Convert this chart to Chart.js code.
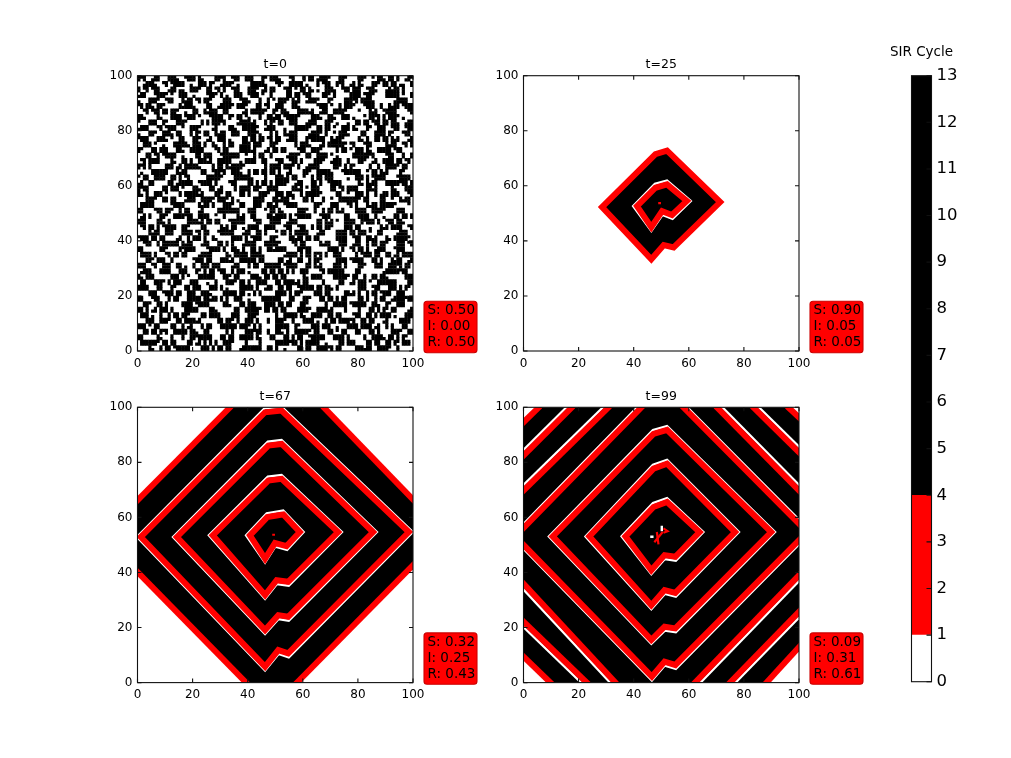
<!DOCTYPE html>
<html>
<head>
<meta charset="utf-8">
<title>SIR Cycle</title>
<script src="https://cdn.jsdelivr.net/npm/chart.js@4/dist/chart.umd.min.js"></script>
<style>
html, body { margin: 0; background: #fff; }
#page { position: relative; width: 1011px; height: 758px; overflow: hidden; }
canvas { position: absolute; }
</style>
</head>
<body>
<div id="page"></div>
<script>
const panelTitles = ['t=0', 't=25', 't=67', 't=99'];
const fracS = ['0.50', '0.90', '0.32', '0.09'];
const fracI = ['0.00', '0.05', '0.25', '0.31'];
const fracR = ['0.50', '0.05', '0.43', '0.61'];
const axisTicks = [0, 20, 40, 60, 80, 100];
const colorbarBands = [1, 3, 9];
const colorbarTicks = [0, 1, 2, 3, 4, 5, 6, 7, 8, 9, 10, 11, 12, 13];
const colorbarColors = ['#ffffff', '#ff0000', '#000000'];

// t=0 grid, one hex string per row from the top, a set bit is a black cell
const cellsT0 = [
'E31C7A0F39C6E18B3C70E59A3','A71E3B0D19C4F08B7860C1DA6','1C6F83B1E07C39F05CE2876C1','3E2793A3C87E11F44CA6C66D9',
'B70C1E6D38F2C75A0E3B9C168','931D9C6518E6C31B4F1B8E3E8','63E9C07A1CF4836E1D07BC3E9','E1C1C8329C7083661907983E1',
'0F38B6E1C7095EA3C61F7803C','8E18F2C1C3891CE7841D7C07C','D9C17063EF1B38C07A5E3C96F','5D81F867CE1938E0385C1C9E7',
'376E0CB9817E6C3D19F08A7C3','136C4CF9837C4E3F39E00E3C1','C10F7A3E6D09B7E1C6382F5E0','E18F381E4C89F3C1E73A0D5C8',
'8E63C15F07A2D9C38E01B76C3','0E43815D0FE299C78C89B36E7','71BC9E0863F1C07E6D3A19CE7','F09C1C1873E3C47C6C3B11C63',
'0E7316CB38F0A5C1E97063D8E','8C7B14CF38E8A7C3C87863D06','F1C98E27036DB1C7F2E0936A1','71E18C67436CB3C5F3C0D36E3',
'3A07CE9163B8E05C17F6382CD','3847EE9967B8C05E37E2183C5','C6E31F0D87A16C39E0B5D1F70','86E39F0587E36C19C0B1D9F30',
'1B7C06E3F92C81E67A03FC389','193C86E1F82C83C67883F4189','6F08D3A7C1E639D0F1C8E27B6','2F0CD3E7C5E618D0E3C8C67B2',
'E8397C16BE02F7A3C1D6093EC','A83B7E16FC02F727C194093CC','07E2C19F38B6D10E7C3F96A18','47E3C18D3CB6D30C7E1F86E10',
'B3CD607E1F823AC96E01D7C3E','33CD207C1FC23EC16E09D3C1E','4C19F3E870D6BE31A7C0963FD','CC1BF1E830D6BC71A3C0DE3ED',
'F06E8C3217B9E0D5C36F1A087','B06E0E3617B1E0F1C32F1E0C7','93A17D0EC68F3B17E0C9D26E3','D3817F0CC68E3B97C0C1D2EE1',
'1E6C39F7A03C6E8D127FB0C96','1C6C79E7283C7E0D107F30C1E','7C0F82D1E639A7C0E38D16FC2','7C0783D1C639E3C0C3851EF80',
'C3B96107F8E2D03C96A1E7C38','C1B16307F8E0D83896E1E7838','28E7F3C90A61BD7E3C18F206D','68C7B3C10E61FD3E1C18F246D',
'E1903D6C7E38F1C06A9E7D3B0','E1D03F6C3E18F3C06E1E5D1B8','6D7CE182B0F3C7396E1D80AF3','2D3CC183B2F3C3196C1D88EF1',
'0B38F6C7E19A2D7C30F6E981C','0F38F2C3E39A0D7C70F6E183C','F6C12E903D78E1B6C0F39A27E','76C32E983D38C1F6C0F19E37C',
'397EB0C6A1E3F0D82C7196E3B','197EF1C6A3E3E0583C7396C39','C0E1F87D3269BC3E07A6D1C78','C0C1783D3A69FC3607A2D3C38',
'7A36C1E09F7803D6E9C17B32F','7A16C3E0DF7C07D6A9C13B36F','1DC80F63A7EC1932E0F7C68B1','19C80763E7EC1B32C0F3C68F3',
'E67309DC18B3F7C6A1D0E39F6','E27349DC38B3F3C6E1D0C39D6','38F1C6B72E06DA9C37E1803FC','78F1C4B32E86DA9C17E1807EC',
'9C0EA3F1D8736C09E1FB26C07','DC0E83F1987B6C0DE1F326E07','63D71C08F69E37AC1062E9FC3','63971C48E69E37EC1066E1FC3',
'F18C6E3A07D19B3F6C80E71D6','F1886E3A87D39B1F6E80E31D4','0E7B39C1F6283D70EC1A96F38','0E3B39E1F6A83D60EC1E96738',
'C7163EDA9C07F18E36B0D2C7F','C3163EFA9C87F18C36B0D2CFB','39A0F7C186E3DB1C09F7E6338','31A0F3C1C6E3DB1809F3E7238',
'D2E87C3019FB6C3E7A108D6C1','D6E87C3819F36C3C7E108D4C3','7096E1BC38F027D1E6C39AF07','7496C1BC38E027D9E6C19AF47',
'1CF37A06E9D13C8F0B7E6C21E','1CE37E06C9D1388F4B7A6C61E','EB0C9163F7A83E61DC0F7928C','E30CB163F7283E41DC8F7B28C',
'36E7D8C0A1F9327EC6B18D0F3','36A7DCC0A1D93A7CC6318D0E3','C1089FE367D0C6B3F1E8279AC','C1889BE367D8C6B1F1E827DA8',
'7F6C32A9E1083FD7C06E1B36E','7E6C36A9C1083ED7C86E1B34E','08B7E1D6C3F9A0367EC1D9F20','0CB3E1D6C7F9A4367AC1F9E20'
];

// black areas, red rings and the thin white edge outside them, as vertices
const blackT25 = [[71.4,54.1],[52.1,72.8],[47.9,71.5],[28.5,52.3],[46.4,33.3],[50.9,38.5],[54.5,37.6],[71.4,54.1]];
const redT25 = [
  [[71.4,54.1],[52.1,72.8],[47.9,71.5],[28.5,52.3],[46.4,33.3],[50.9,38.5],[54.5,37.6],[71.4,54.1]],
  [[59.3,54.5],[52.1,60.5],[47.9,59.3],[41.2,52.6],[46.4,45],[50.3,50.8],[53.9,49.4],[59.3,54.5]]
];
const whiteT25 = [
  [[60.7,54.5],[52.1,61.9],[47.7,60.7],[39.8,52.6],[46.4,43.6],[50.4,49.4],[54.1,48],[60.7,54.5]]
];
const dotsT25 = [[[48.9,53.7],[49.9,53.7]]];

const blackT67 = [[0,66.2],[34,100],[67.6,100],[100,66],[100,42.8],[58,0],[39.8,0],[0,40.4],[0,66.2]];
const redT67 = [
  [[58.9,54.7],[52.9,61.1],[50.5,60.7],[47.1,60.1],[40.8,53.5],[46.3,45],[49.9,50.7],[54.1,49.6],[58.9,54.7]],
  [[72.8,54.7],[52.3,74],[47.5,73.4],[27.3,53.5],[46.3,31.8],[50.5,37.2],[54.7,36.6],[72.8,54.7]],
  [[85.5,54.7],[52.3,86.7],[47.5,86.1],[14.3,52.9],[46.3,19.1],[51.1,24.5],[54.7,23.9],[85.5,54.7]],
  [[98.5,54.7],[52.3,98.8],[46.3,98.2],[1.2,52.9],[46.3,5.8],[51.1,11.8],[54.7,10.6],[98.5,54.7]],
  [[-1,65.2],[34,100.4]], [[67.2,100.4],[101,65.5]], [[-1,41.2],[40,-0.6]], [[57.3,-0.6],[101,43.6]]
];
const whiteT67 = [
  [[60.3,54.7],[52.9,62.5],[50.5,62.1],[46.9,61.5],[39.4,53.5],[46.3,43.6],[50,49.4],[54.3,48.2],[60.3,54.7]],
  [[74.2,54.7],[52.3,75.4],[47.3,74.8],[25.9,53.5],[46.3,30.4],[50.6,35.8],[54.9,35.2],[74.2,54.7]],
  [[86.9,54.7],[52.3,88.1],[47.3,87.5],[12.9,52.9],[46.3,17.7],[51.2,23.1],[54.9,22.5],[86.9,54.7]],
  [[99.9,54.7],[52.3,100.2],[46.1,99.6],[-0.2,52.9],[46.3,4.4],[51.2,10.4],[54.9,9.2],[99.9,54.7]]
];
const dotsT67 = [[[48.9,53.7],[49.9,53.7]]];

const blackT99 = [[5.6,100],[96.2,100],[100,96],[100,13.5],[87.8,0],[10.2,0],[0,9.8],[0,94.4],[5.6,100]];
const redT99 = [
  [[63.9,54.7],[52.1,65.6],[47.2,63.8],[37,53.1],[46.4,40.8],[51.2,46.3],[55.1,45.7],[63.9,54.7]],
  [[76.8,54.7],[52.1,79.5],[47.2,77.7],[23.9,53.1],[46.4,28.1],[51.2,33.6],[55.1,32.6],[76.8,54.7]],
  [[89.9,54.7],[52.1,91.8],[47.2,90.3],[10.6,53.1],[46.4,15.5],[51.2,20.3],[55.1,19.7],[89.9,54.7]],
  [[103,54.7],[52.1,106],[47.2,104.5],[-3,53.1],[46.6,2.2],[51.2,7.6],[55.1,6.4],[103,54.7]],
  [[-1,93.6],[6,100.4]], [[-1,81.5],[18,100.4]], [[-1,68.8],[31.3,100.4]],
  [[69.8,100.4],[101,68.8]], [[83,100.4],[101,82.7]], [[95.7,100.4],[101,95.4]],
  [[-1,37],[34.3,-1]], [[-1,23.1],[24,-1]], [[-1,10.4],[10.8,-1]],
  [[61.3,-1],[101,40]], [[74,-1],[101,26.7]], [[87.3,-1],[101,14]]
];
const whiteT99 = [
  [[65.3,54.7],[52.1,67],[47,65.2],[35.6,53.1],[46.4,39.4],[51.3,44.9],[55.3,44.3],[65.3,54.7]],
  [[78.2,54.7],[52.1,80.9],[47,79.1],[22.5,53.1],[46.4,26.7],[51.3,32.2],[55.3,31.2],[78.2,54.7]],
  [[91.3,54.7],[52.1,93.2],[47,91.7],[9.2,53.1],[46.4,14.1],[51.3,18.9],[55.3,18.3],[91.3,54.7]],
  [[104.4,54.7],[52.1,107.4],[47,105.9],[-4.4,53.1],[46.6,0.8],[51.3,6.2],[55.3,5],[104.4,54.7]],
  [[-2,82.5],[17,101.4]], [[-2,69.8],[30.3,101.4]],
  [[70.8,101.4],[102,69.8]], [[84,101.4],[102,83.7]],
  [[-2,36],[33.3,-2]], [[-2,22.1],[23,-2]],
  [[62.3,-2],[102,39]], [[75,-2],[102,25.7]],
  [[46,53],[47.2,53]], [[50.2,57],[50.2,55]]
];
const dotsT99 = [[[48.4,54.7],[49,50.2]], [[47.5,51],[50.5,54.7]], [[50.8,56],[52.3,55],[50.8,54.4]]];

const pts = list => list.map(p => ({ x: p[0], y: p[1] }));

function cellPoints(rows) {
  const out = [];
  rows.forEach((row, r) => {
    [...row].forEach((ch, i) => {
      const bits = parseInt(ch, 16);
      for (let b = 0; b < 4; b++) {
        if (bits & (8 >> b)) out.push({ x: i * 4 + b + 0.5, y: 99.5 - r });
      }
    });
  });
  return out;
}

function lineSet(list, color, width) {
  const first = list[0], last = list[list.length - 1];
  // closed ring: run on to the second vertex so the start gets a proper join
  const path = (list.length > 3 && first[0] === last[0] && first[1] === last[1]) ? [...list, list[1]] : list;
  return {
    data: pts(path), showLine: true, borderColor: color, borderWidth: width,
    pointRadius: 0, borderCapStyle: 'butt', borderJoinStyle: 'miter', clip: 0
  };
}

function ringLayers(black, white, red, dots) {
  // listed bottom first, reversed later because chart.js paints the first dataset last
  const layers = [{ data: pts(black), showLine: true, borderWidth: 0, pointRadius: 0, backgroundColor: '#000', fill: 'shape', clip: 0 }];
  white.forEach(r => layers.push(lineSet(r, '#fff', 2.4)));
  red.forEach(r => layers.push(lineSet(r, '#f00', 6)));
  dots.forEach(r => layers.push(lineSet(r, '#f00', 2.2)));
  return layers.reverse();
}

const panelDecor = {
  id: 'panelDecor',
  afterDatasetsDraw(chart, args, opts) {
    const ctx = chart.ctx;
    const a = chart.chartArea;
    ctx.save();
    ctx.strokeStyle = '#111';
    ctx.lineWidth = 1.1;
    ctx.strokeRect(a.left, a.top, a.width, a.height);
    ctx.beginPath();
    if (opts.rightTicksOnly) {
      chart.scales.y.ticks.forEach(t => {
        const py = chart.scales.y.getPixelForValue(t.value);
        ctx.moveTo(a.right, py); ctx.lineTo(a.right - 5, py);
      });
    } else {
      chart.scales.x.ticks.forEach(t => {
        const px = chart.scales.x.getPixelForValue(t.value);
        ctx.moveTo(px, a.bottom); ctx.lineTo(px, a.bottom - 4);
        ctx.moveTo(px, a.top); ctx.lineTo(px, a.top + 4);
      });
      chart.scales.y.ticks.forEach(t => {
        const py = chart.scales.y.getPixelForValue(t.value);
        ctx.moveTo(a.left, py); ctx.lineTo(a.left + 4, py);
        ctx.moveTo(a.right, py); ctx.lineTo(a.right - 4, py);
      });
    }
    ctx.stroke();
    ctx.fillStyle = '#000';
    ctx.textAlign = 'center';
    ctx.textBaseline = 'middle';
    ctx.font = opts.titleFont;
    ctx.fillText(opts.title, (a.left + a.right) / 2, a.top - opts.titleGap);
    if (opts.stats) {
      const x = a.right + 11, y = a.bottom - 49.7, w = 53, h = 51.4;
      ctx.fillStyle = '#f00';
      ctx.strokeStyle = '#c00';
      ctx.beginPath();
      ctx.roundRect(x, y, w, h, 3);
      ctx.fill();
      ctx.stroke();
      ctx.fillStyle = '#000';
      ctx.textAlign = 'left';
      ctx.font = '13.5px "DejaVu Sans"';
      opts.stats.forEach((s, i) => ctx.fillText(s, x + 3.5, y + 9.5 + i * 16));
    }
    ctx.restore();
  }
};

function addCanvas(left, top, w, h) {
  const c = document.createElement('canvas');
  c.width = w; c.height = h;
  c.style.left = left + 'px';
  c.style.top = top + 'px';
  c.style.width = w + 'px';
  c.style.height = h + 'px';
  document.getElementById('page').appendChild(c);
  return c;
}

function drawPanel(i, plotX, plotY, datasets) {
  const canvas = addCanvas(Math.floor(plotX) - 40, Math.floor(plotY) - 25, 385, 325);
  new Chart(canvas, {
    type: 'scatter',
    data: { datasets: datasets },
    plugins: [panelDecor],
    options: {
      responsive: false,
      animation: false,
      layout: { padding: { top: 25 + plotY - Math.floor(plotY), right: 385 - 40 - (plotX - Math.floor(plotX)) - 275.5, bottom: 0, left: 0 } },
      scales: {
        x: {
          type: 'linear', min: 0, max: 100,
          afterFit: s => { s.height = 325 - 25 - (plotY - Math.floor(plotY)) - 275.3; },
          afterBuildTicks: s => { s.ticks = axisTicks.map(v => ({ value: v })); },
          grid: { display: false, drawTicks: false },
          border: { display: false },
          ticks: { color: '#000', padding: 5.5, maxRotation: 0, font: { family: 'DejaVu Sans', size: 12 } }
        },
        y: {
          type: 'linear', min: 0, max: 100,
          afterFit: s => { s.width = 40 + plotX - Math.floor(plotX); },
          afterBuildTicks: s => { s.ticks = axisTicks.map(v => ({ value: v })); },
          grid: { display: false, drawTicks: false },
          border: { display: false },
          ticks: { color: '#000', padding: 5, font: { family: 'DejaVu Sans', size: 12 } }
        }
      },
      plugins: {
        legend: { display: false },
        tooltip: { enabled: false },
        panelDecor: {
          title: panelTitles[i], titleGap: 10.5, titleFont: '12.5px "DejaVu Sans"',
          stats: ['S: ' + fracS[i], 'I: ' + fracI[i], 'R: ' + fracR[i]]
        }
      }
    }
  });
}

drawPanel(0, 137.5, 75.7, [{ data: cellPoints(cellsT0), pointStyle: 'rect', pointRadius: 2.25, pointBorderWidth: 0, backgroundColor: '#000' }]);
drawPanel(1, 523.5, 75.7, ringLayers(blackT25, whiteT25, redT25, dotsT25));
drawPanel(2, 137.5, 407.3, ringLayers(blackT67, whiteT67, redT67, dotsT67));
drawPanel(3, 523.5, 407.3, ringLayers(blackT99, whiteT99, redT99, dotsT99));

// colour bar
new Chart(addCanvas(891, 30, 90, 670), {
  type: 'bar',
  data: {
    labels: [''],
    datasets: colorbarBands.map((v, k) => ({ data: [v], backgroundColor: colorbarColors[k], barPercentage: 1, categoryPercentage: 1, borderWidth: 0 }))
  },
  plugins: [panelDecor],
  options: {
    responsive: false,
    animation: false,
    layout: { padding: { top: 45.7, bottom: 18.3, left: 20.5, right: 0 } },
    scales: {
      x: { stacked: true, display: false },
      y: {
        stacked: true, position: 'right', min: 0, max: 13,
        afterFit: s => { s.width = 49.5; },
        afterBuildTicks: s => { s.ticks = colorbarTicks.map(v => ({ value: v })); },
        grid: { display: false, drawTicks: false },
        border: { display: false },
        ticks: { color: '#000', padding: 5, font: { family: 'DejaVu Sans', size: 16.5 } }
      }
    },
    plugins: {
      legend: { display: false },
      tooltip: { enabled: false },
      panelDecor: { title: 'SIR Cycle', titleGap: 23.5, titleFont: '13.5px "DejaVu Sans"', rightTicksOnly: true }
    }
  }
});
</script>
</body>
</html>
